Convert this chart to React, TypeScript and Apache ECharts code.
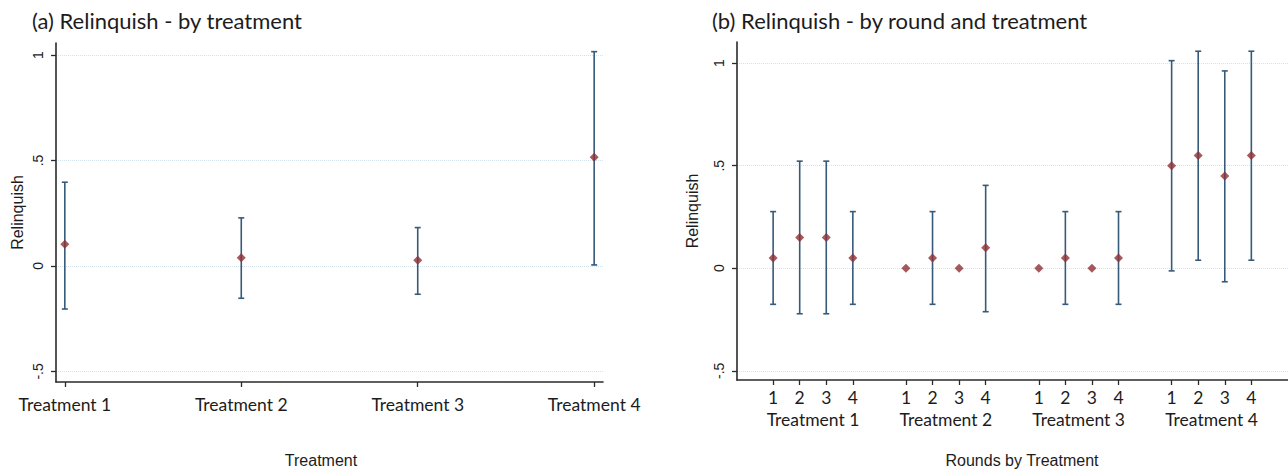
import React, { useEffect, useRef } from "react";
import * as echarts from "echarts";

// ---- data ----
const treatments = ["Treatment 1", "Treatment 2", "Treatment 3", "Treatment 4"];
const rounds = ["1", "2", "3", "4"];
const yTickValues = [-0.5, 0, 0.5, 1];
const yTickLabels = ["-.5", "0", ".5", "1"];

const leftMean = [0.103, 0.039, 0.027, 0.516];
const leftLow = [-0.204, -0.153, -0.134, 0.005];
const leftHigh = [0.397, 0.228, 0.182, 1.016];

const rightMean = [0.05, 0.15, 0.15, 0.05, 0, 0.05, 0, 0.1, 0, 0.05, 0, 0.05, 0.5, 0.55, 0.45, 0.55];
const rightLow = [-0.176, -0.222, -0.222, -0.176, null, -0.176, null, -0.212, null, -0.176, null, -0.176, -0.013, 0.039, -0.066, 0.039];
const rightHigh = [0.276, 0.522, 0.522, 0.276, null, 0.276, null, 0.404, null, 0.276, null, 0.276, 1.012, 1.058, 0.962, 1.058];

const titles = ["(a) Relinquish - by treatment", "(b) Relinquish - by round and treatment"];
const yName = "Relinquish";
const xNames = ["Treatment", "Rounds by Treatment"];

// ---- styling ----
const MEAN_COLOR = "#8e2f35";
const CI_COLOR = "#365a79";
const AXIS_COLOR = "#2a2a2a";
const GRID_COLOR = "#d3e2ea";
const TEXT_COLOR = "#1c1c1c";
const CAL = "Lato, 'Open Sans', sans-serif";
const ARIAL = "'Liberation Sans', Arial, sans-serif";

function fmtY(v: number) {
  const i = yTickValues.findIndex((t) => Math.abs(t - v) < 1e-6);
  return i >= 0 ? yTickLabels[i] : "";
}

const errorBarRender = (params: any, api: any) => {
  const x = api.value(0);
  const lo = api.value(1);
  const hi = api.value(2);
  const a = api.coord([x, lo]);
  const b = api.coord([x, hi]);
  const w = 3;
  const style = { stroke: CI_COLOR, lineWidth: 1.6 };
  return {
    type: "group",
    children: [
      { type: "line", shape: { x1: a[0], y1: a[1], x2: b[0], y2: b[1] }, style },
      { type: "line", shape: { x1: a[0] - w, y1: a[1], x2: a[0] + w, y2: a[1] }, style },
      { type: "line", shape: { x1: b[0] - w, y1: b[1], x2: b[0] + w, y2: b[1] }, style },
    ],
  };
};

export default function App() {
  const ref = useRef<HTMLDivElement>(null);

  useEffect(() => {
    document.body.style.margin = "0";
    if (!ref.current) return;
    const chart = echarts.init(ref.current, null, { renderer: "svg" });

    const leftX = treatments.map((_, i) => i + 1);
    const rightX: number[] = [];
    treatments.forEach((_, g) => rounds.forEach((_, r) => rightX.push(g * 5 + r + 1)));
    const groupCenters = treatments.map((_, g) => g * 5 + 2.5);

    const leftCI = leftX.map((x, i) => [x, leftLow[i], leftHigh[i]]);
    const rightCI = rightX
      .map((x, i) => [x, rightLow[i], rightHigh[i]])
      .filter((d) => d[1] !== null && d[2] !== null);

    const yAxisBase = (gridIndex: number, min: number, max: number, nameGap: number) => ({
      type: "value",
      gridIndex,
      min,
      max,
      name: yName,
      nameLocation: "middle",
      nameGap,
      nameTextStyle: { fontFamily: ARIAL, fontSize: 16, color: TEXT_COLOR },
      axisLine: { show: true, onZero: false, lineStyle: { color: AXIS_COLOR, width: 1.6 } },
      axisTick: { show: true, length: 5, customValues: yTickValues, lineStyle: { color: AXIS_COLOR, width: 1.3 } },
      axisLabel: {
        customValues: yTickValues,
        formatter: (v: number) => fmtY(v),
        rotate: 90,
        margin: 11,
        fontFamily: ARIAL,
        fontSize: 14,
        color: TEXT_COLOR,
      },
      splitLine: { show: false },
    });

    const gridMarkLine = {
      silent: true,
      z: 0,
      symbol: "none",
      label: { show: false },
      lineStyle: { color: GRID_COLOR, type: "dotted", width: 1 },
      data: yTickValues.map((v) => ({ yAxis: v })),
    };

    const titleStyle = { fontFamily: CAL, fontSize: 22, fontWeight: "normal", color: TEXT_COLOR };

    chart.setOption({
      animation: false,
      backgroundColor: "#ffffff",
      title: [
        { text: titles[0], left: 27, top: 4, textStyle: titleStyle },
        { text: titles[1], left: 707, top: 4, textStyle: titleStyle },
      ],
      grid: [
        { left: 56, top: 43, width: 547, height: 339 },
        { left: 737, top: 42, right: 0, height: 338 },
      ],
      xAxis: [
        {
          type: "value",
          gridIndex: 0,
          min: 0.95,
          max: 4.05,
          axisLine: { show: true, onZero: false, lineStyle: { color: AXIS_COLOR, width: 1.6 } },
          axisTick: { show: true, length: 5, customValues: leftX, lineStyle: { color: AXIS_COLOR, width: 1.3 } },
          axisLabel: {
            customValues: leftX,
            formatter: (v: number) => treatments[Math.round(v) - 1] ?? "",
            margin: 13,
            fontFamily: CAL,
            fontSize: 17.5,
            color: TEXT_COLOR,
          },
          splitLine: { show: false },
        },
        {
          type: "value",
          gridIndex: 1,
          min: -0.36,
          max: 20.38,
          axisLine: { show: true, onZero: false, lineStyle: { color: AXIS_COLOR, width: 1.6 } },
          axisTick: { show: true, length: 5, customValues: rightX, lineStyle: { color: AXIS_COLOR, width: 1.3 } },
          axisLabel: {
            customValues: rightX,
            formatter: (v: number) => rounds[(Math.round(v) - 1) % 5] ?? "",
            margin: 8,
            fontFamily: CAL,
            fontSize: 17.5,
            color: TEXT_COLOR,
          },
          splitLine: { show: false },
        },
        {
          type: "value",
          gridIndex: 1,
          min: -0.36,
          max: 20.38,
          position: "bottom",
          axisLine: { show: false, onZero: false },
          axisTick: { show: false },
          axisLabel: {
            customValues: groupCenters,
            formatter: (v: number) => treatments[Math.round((v - 2.5) / 5)] ?? "",
            margin: 30,
            fontFamily: CAL,
            fontSize: 17.5,
            color: TEXT_COLOR,
          },
          splitLine: { show: false },
        },
      ],
      yAxis: [yAxisBase(0, -0.55, 1.057, 31), yAxisBase(1, -0.545, 1.103, 37)],
      graphic: [
        {
          type: "text",
          x: 321,
          y: 460,
          style: { text: xNames[0], fontFamily: ARIAL, fontSize: 16, fill: TEXT_COLOR, align: "center", verticalAlign: "middle" },
        },
        {
          type: "text",
          x: 1022,
          y: 460,
          style: { text: xNames[1], fontFamily: ARIAL, fontSize: 16, fill: TEXT_COLOR, align: "center", verticalAlign: "middle" },
        },
      ],
      series: [
        { type: "line", xAxisIndex: 0, yAxisIndex: 0, data: [], markLine: gridMarkLine, z: 0 },
        { type: "line", xAxisIndex: 1, yAxisIndex: 1, data: [], markLine: gridMarkLine, z: 0 },
        {
          type: "custom",
          xAxisIndex: 0,
          yAxisIndex: 0,
          renderItem: errorBarRender,
          encode: { x: 0, y: [1, 2] },
          data: leftCI,
          z: 5,
        },
        {
          type: "custom",
          xAxisIndex: 1,
          yAxisIndex: 1,
          renderItem: errorBarRender,
          encode: { x: 0, y: [1, 2] },
          data: rightCI,
          z: 5,
        },
        {
          type: "scatter",
          xAxisIndex: 0,
          yAxisIndex: 0,
          symbol: "diamond",
          symbolSize: 9,
          itemStyle: { color: MEAN_COLOR },
          data: leftX.map((x, i) => [x, leftMean[i]]),
          z: 10,
        },
        {
          type: "scatter",
          xAxisIndex: 1,
          yAxisIndex: 1,
          symbol: "diamond",
          symbolSize: 9,
          itemStyle: { color: MEAN_COLOR },
          data: rightX.map((x, i) => [x, rightMean[i]]),
          z: 10,
        },
      ],
    });

    return () => {
      chart.dispose();
    };
  }, []);

  return <div ref={ref} style={{ width: 1288, height: 474 }} />;
}
